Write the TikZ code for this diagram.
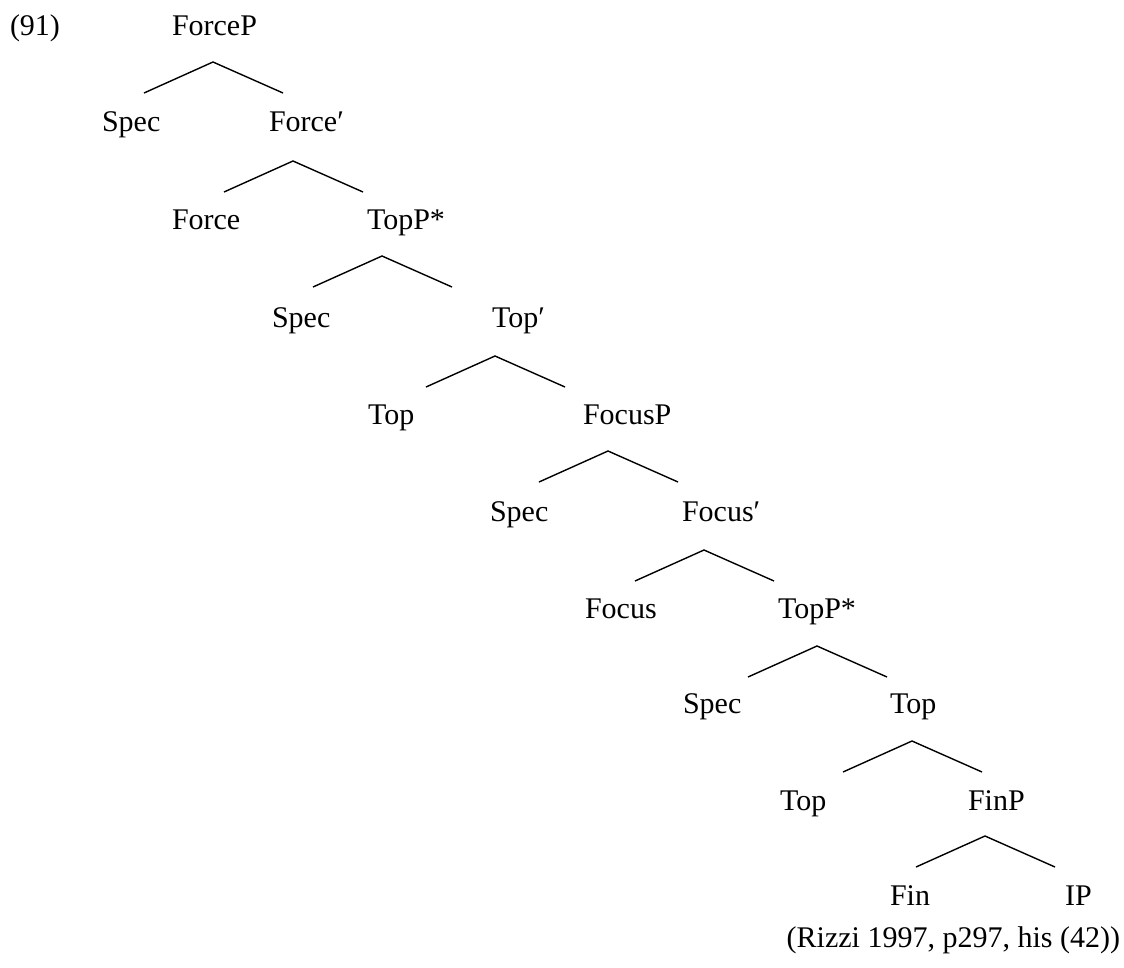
\documentclass[tikz,border=0pt]{standalone}
\usepackage{fontspec}
\setmainfont{Liberation Serif}
\begin{document}
\begin{tikzpicture}[x=1pt,y=-1pt,
  lbl/.style={anchor=base west,inner sep=0pt,outer sep=0pt,
    font=\fontsize{30}{36}\selectfont},
  branch/.style={line width=1.4pt,line join=miter}]
\useasboundingbox (0,0) rectangle (1124,967);

% labels (left edge, baseline)
\node[lbl] (ex)     at (10,35)   {(91)};
\node[lbl] (forceP) at (172,35)  {ForceP};
\node[lbl] (spec1)  at (102,131) {Spec};
\node[lbl] (forceB) at (269,131) {Force′};
\node[lbl] (force)  at (172,229) {Force};
\node[lbl] (topPa)  at (367,229) {TopP*};
\node[lbl] (spec2)  at (272,327) {Spec};
\node[lbl] (topBa)  at (492,327) {Top′};
\node[lbl] (topa)   at (368,424) {Top};
\node[lbl] (focusP) at (583,424) {FocusP};
\node[lbl] (spec3)  at (490,521) {Spec};
\node[lbl] (focusB) at (682,521) {Focus′};
\node[lbl] (focus)  at (585,618) {Focus};
\node[lbl] (topPb)  at (778,618) {TopP*};
\node[lbl] (spec4)  at (683,713) {Spec};
\node[lbl] (topBb)  at (890,713) {Top};
\node[lbl] (topb)   at (780,810) {Top};
\node[lbl] (finP)   at (968,810) {FinP};
\node[lbl] (fin)    at (890,905) {Fin};
\node[lbl] (ip)     at (1065,905) {IP};
\node[lbl,anchor=base east] (src) at (1120,947) {(Rizzi 1997, p297, his (42))};

% branching points: apex under each mother, line ends above each daughter
\foreach \n/\ax/\ay in {a/213/62, b/293/161, c/382/256, d/495/356, e/608/451,
                        f/704/550, g/817/646, h/912/741, i/985/836}{
  \coordinate (apex-\n) at (\ax,\ay);
  \coordinate (left-\n) at (\ax-69,\ay+31);
  \coordinate (right-\n) at (\ax+70,\ay+31);
  \draw[branch] (left-\n) -- (apex-\n) -- (right-\n);
}
\end{tikzpicture}
\end{document}
